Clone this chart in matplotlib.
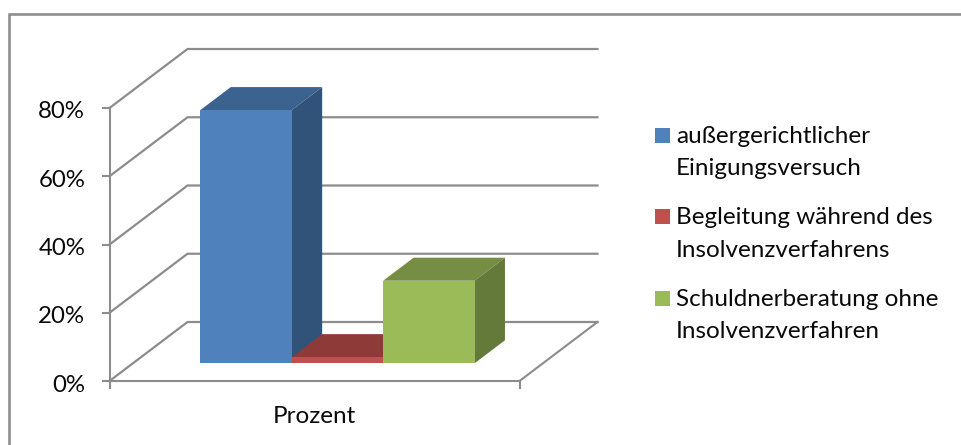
import matplotlib
matplotlib.use('Agg')
import matplotlib.pyplot as plt
from matplotlib.lines import Line2D
from matplotlib.patches import Polygon, Rectangle
from matplotlib.transforms import ScaledTranslation

categories = ['außergerichtlicher\nEinigungsversuch',
              'Begleitung während des\nInsolvenzverfahrens',
              'Schuldnerberatung ohne\nInsolvenzverfahren']
values = [74.2, 1.8, 24.2]
yticks = [0, 20, 40, 60, 80]
ylabels = ['0%', '20%', '40%', '60%', '80%']
group_label = 'Prozent'

front_colors = ['#4F81BD', '#C0504D', '#9BBB59']
top_colors = ['#3C6290', '#8E3A38', '#758E43']
side_colors = ['#325379', '#7A302E', '#647A3A']
grid_color = '#8C8C8C'
text_color = '#0A0A0A'

plt.rcParams['font.family'] = ['Lato', 'DejaVu Sans']
W, H = 961, 445
fig = plt.figure(figsize=(W / 100, H / 100), dpi=100)
fig.patch.set_facecolor('white')

# chart border, cropped: only top and left are in the picture
fig.add_artist(Line2D([9 / W, 9 / W, 1], [0, 1 - 13.5 / H, 1 - 13.5 / H], transform=fig.transFigure,
                      color='#8E8E8E', linewidth=1.9, solid_joinstyle='miter'))

# front plane of the 3d box
ax = fig.add_axes([109.5 / W, 1 - 381 / H, 410 / W, 273 / H])
ax.set_xlim(0, 1)
ax.set_ylim(0, 80)
for s in ['top', 'right']:
    ax.spines[s].set_visible(False)
for s in ['left', 'bottom']:
    ax.spines[s].set_color(grid_color)
    ax.spines[s].set_linewidth(1.5)
ax.patch.set_visible(False)

# depth of the box, in data units
DX = 78 / 410
DY = 59 / 3.4125


def proj(x, y, d):
    return (x + d * DX, y + d * DY)


def poly(pts, color, z):
    ax.add_patch(Polygon(pts, closed=True, facecolor=color, edgecolor='none', clip_on=False, zorder=z))


# gridlines on the back wall and the side wall
for t in yticks:
    ax.plot([proj(0, t, 0)[0], proj(0, t, 1)[0], proj(1, t, 1)[0]],
            [proj(0, t, 0)[1], proj(0, t, 1)[1], proj(1, t, 1)[1]],
            color=grid_color, linewidth=1.6, clip_on=False, zorder=1, solid_joinstyle='miter')
# floor edge on the right
ax.plot([proj(1, 0, 0)[0], proj(1, 0, 1)[0]], [proj(1, 0, 0)[1], proj(1, 0, 1)[1]],
        color=grid_color, linewidth=1.5, clip_on=False, zorder=1)

# bars
bar_w = 91.4 / 410
gap = 0.1645
d0, d1 = 0.30, 0.69
for i, v in enumerate(values):
    x0 = gap + i * bar_w
    x1 = x0 + bar_w
    z = 3 + 0.1 * i
    poly([proj(x0, v, d0), proj(x1, v, d0), proj(x1, v, d1), proj(x0, v, d1)], top_colors[i], z)
    poly([proj(x1, 0, d0), proj(x1, v, d0), proj(x1, v, d1), proj(x1, 0, d1)], side_colors[i], z)
    poly([proj(x0, 0, d0), proj(x1, 0, d0), proj(x1, v, d0), proj(x0, v, d0)], front_colors[i], z + 0.05)

ax.set_yticks(yticks)
ax.set_yticklabels(ylabels, fontsize=17.3, color=text_color)
ax.set_xticks([0, 1])
ax.set_xticklabels(['', ''])
ax.tick_params(axis='both', color=grid_color, width=1.5, length=6, pad=11.5)
ax.tick_params(axis='x', pad=0)
ax.set_xlabel(group_label, fontsize=17.5, color=text_color, labelpad=12)
# labels sit a little under their ticks
shift = ScaledTranslation(0, -2 / 100, fig.dpi_scale_trans)
for lab in ax.get_yticklabels():
    lab.set_transform(lab.get_transform() + shift)

# legend by hand, swatch sits on the first line of each label
for i, label in enumerate(categories):
    y = 135.5 + i * 81.5
    fig.add_artist(Rectangle((655 / W, 1 - (y + 7.5) / H), 15 / W, 15 / H, transform=fig.transFigure,
                             facecolor=front_colors[i], edgecolor='none'))
    fig.text(676 / W, 1 - (y - 9.5) / H, label, fontsize=17.5, color=text_color, va='top', ha='left',
             linespacing=1.65)

fig.savefig('out.png', dpi=100)
